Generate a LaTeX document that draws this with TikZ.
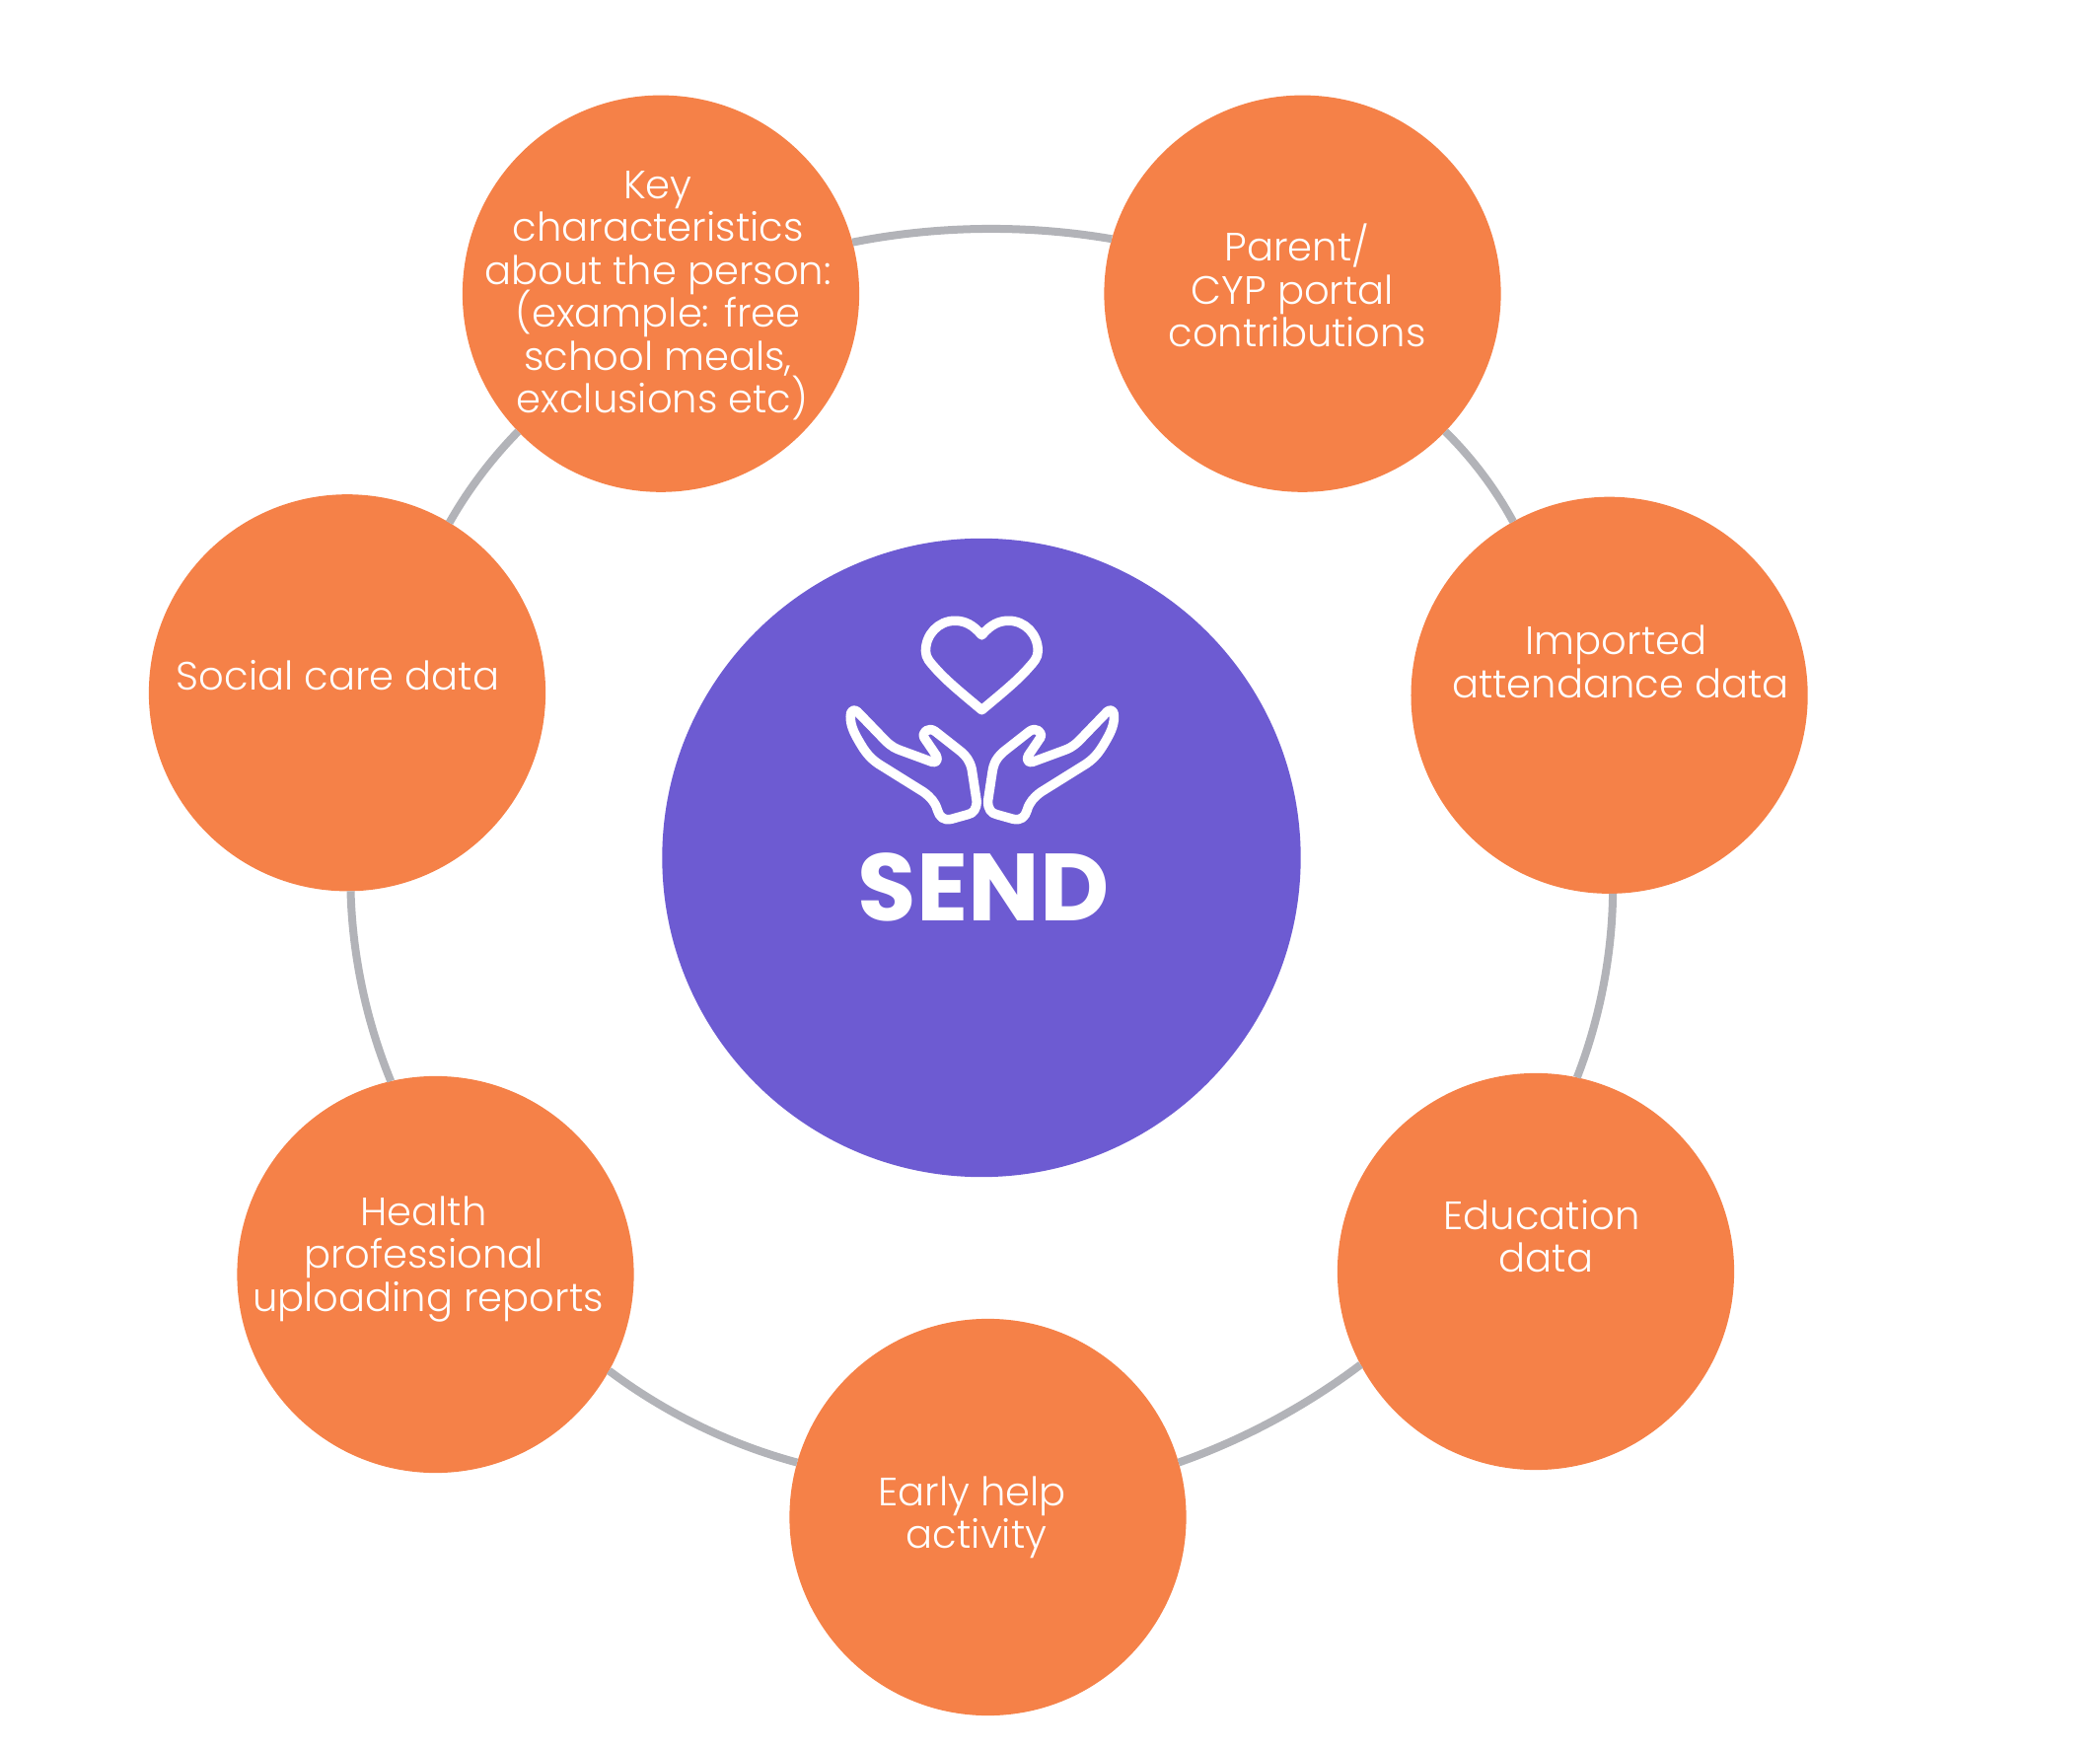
\documentclass[tikz,border=0pt]{standalone}
\usepackage{fontspec}
\setmainfont{Poppins}[UprightFont=* Light,BoldFont=* Bold]

\definecolor{sendpurple}{HTML}{6D5BD2}
\definecolor{dataorange}{HTML}{F58148}
\definecolor{ringgrey}{HTML}{B2B3B8}

\tikzset{
  datacircle/.style={circle, fill=dataorange, minimum size=4.02cm, inner sep=0pt, outer sep=0pt},
  datatext/.style={text=white, align=center, font={\fontsize{11.4pt}{12.35pt}\selectfont\lineskiplimit=-20pt\relax}, inner sep=0pt},
  ringline/.style={draw=ringgrey, line width=0.08cm, looseness=0.85},
  iconline/.style={draw=white, line width=0.095cm, line join=round, line cap=round}
}

\begin{document}
\begin{tikzpicture}[x=0.01cm, y=-0.01cm]
\useasboundingbox (0,0) rectangle (2129,1773);

% Outer circles
\foreach \name/\cx/\cy in {key/670/297.7, parent/1320.5/297.7, imported/1631.6/704.8, education/1557/1289, early/1001.5/1538, health/441.5/1292, social/352/702.3}
  \node[datacircle] (\name) at (\cx,\cy) {};

% Ring pieces between the circles
\draw[ringline] (key.15.4) to[bend left=10.5] (parent.164.6);
\draw[ringline] (parent.-44.2) to[bend left=8.5] (imported.119.1);
\draw[ringline] (imported.-89.5) to[bend left=10.3] (education.78.8);
\draw[ringline] (education.208.2) to[bend left=8.9] (early.16.8);
\draw[ringline] (early.164.5) to[bend left=11] (health.-29);
\draw[ringline] (health.103.6) to[bend left=10.4] (social.-89);
\draw[ringline] (social.59.4) to[bend left=7.5] (key.-136.3);

% Centre
\node[circle, fill=sendpurple, minimum size=6.47cm, inner sep=0pt] (send) at (995,869.5) {};
\node[text=white, inner sep=0pt, font=\fontsize{27.5pt}{28pt}\selectfont\bfseries] (sendtext) at (997,899) {SEND};

% Heart, traced in a 3x crop
\begin{scope}[shift={(800,580)}, x=0.00333cm, y=-0.00333cm]
\draw[iconline] (587,192) .. controls (560,160) and (535,148) .. (505,148)
  .. controls (455,148) and (416,190) .. (416,240)
  .. controls (416,262) and (430,275) .. (445,292)
  .. controls (480,332) and (530,372) .. (587,420)
  .. controls (644,372) and (694,332) .. (729,292)
  .. controls (744,275) and (758,262) .. (758,240)
  .. controls (758,190) and (719,148) .. (669,148)
  .. controls (639,148) and (614,160) .. (587,192) -- cycle;
\end{scope}

% Hands, the second one mirrored
\foreach \mx/\sx in {800/0.00333, 1191.7/-0.00333}{
\begin{scope}[shift={(\mx,580)}, x=\sx cm, y=-0.00333cm]
\draw[iconline] (208,425) -- (295,515)
  .. controls (312,531) and (325,538) .. (340,543)
  -- (435,578) .. controls (450,583) and (455,570) .. (448,558)
  -- (412,505) .. controls (402,488) and (425,470) .. (445,485)
  -- (515,540) .. controls (545,562) and (555,585) .. (558,610)
  -- (571,695) .. controls (573,722) and (560,735) .. (545,738)
  -- (495,752) .. controls (470,758) and (458,745) .. (452,725)
  .. controls (445,700) and (430,685) .. (410,670)
  -- (285,592) .. controls (250,572) and (235,550) .. (225,535)
  .. controls (200,495) and (187,470) .. (187,440)
  .. controls (186,422) and (198,415) .. (208,425) -- cycle;
\end{scope}
}

% Labels
\node[datatext] (keytext) at (667,299.7) {Key\\characteristics\\about the person:\\(example: free\\school meals,\\\hphantom{i}exclusions etc)};
\node[datatext] (parenttext) at (1315,289.7) {Parent/\\CYP portal\hphantom{i}\\contributions};
\node[datatext] (importedtext) at (1643,671) {Imported\hphantom{i}\\attendance data};
\node[datatext] (educationtext) at (1563,1253) {Education\\\hphantom{i}data};
\node[datatext] (earlytext) at (985.5,1538.5) {Early help\\\hphantom{i}activity};
\node[datatext] (healthtext) at (429.5,1276.5) {Health\\professional\\\hphantom{i}uploading reports};
\node[datatext] (socialtext) at (342.5,685) {Social care data};
\end{tikzpicture}
\end{document}
